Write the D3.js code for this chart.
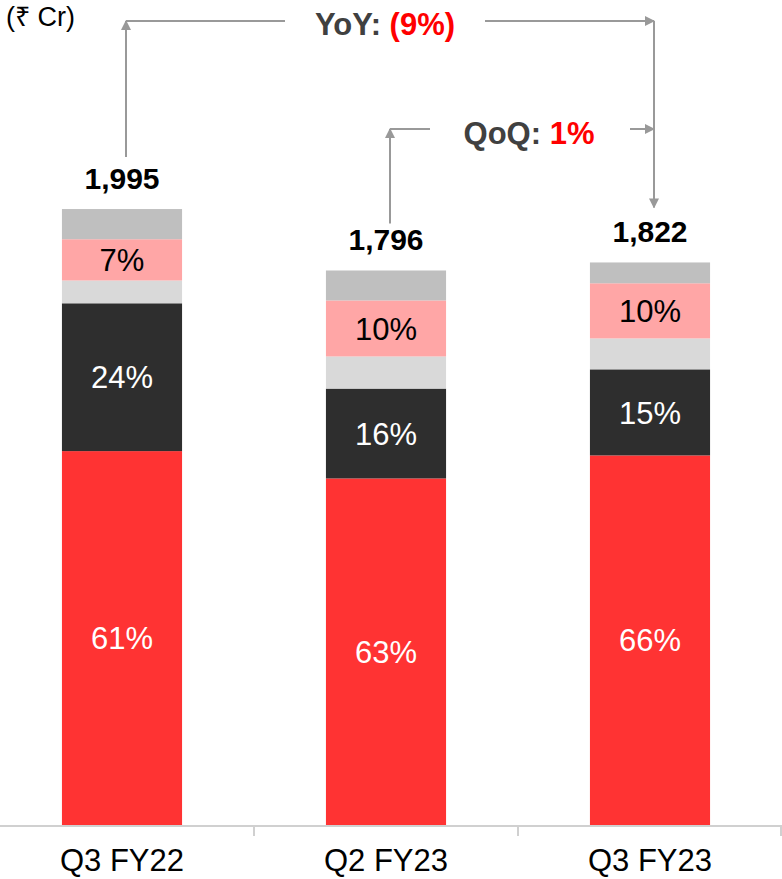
<!DOCTYPE html>
<html>
<head>
<meta charset="utf-8">
<script src="https://cdn.jsdelivr.net/npm/d3@7"></script>
<style>
  body { margin: 0; background: #fff; }
  text { font-family: "Liberation Sans", Arial, sans-serif; }
</style>
</head>
<body>
<div id="chart"></div>
<script>
const width = 782;
const height = 879;

const categories = ["Q3 FY22", "Q2 FY23", "Q3 FY23"];
const totals = [1995, 1796, 1822];

// share of each total, bottom to top (%)
const redShare = [60.7, 62.5, 65.7];
const darkShare = [24.0, 16.2, 15.3];
const lightShare = [3.7, 5.8, 5.5];
const pinkShare = [6.7, 10.1, 9.8];
const greyShare = [4.9, 5.4, 3.7];

const segments = [
    { key: "red", share: redShare, fill: "#ff3333", label: true, textFill: "#fff" },
    { key: "dark", share: darkShare, fill: "#2e2e2e", label: true, textFill: "#fff" },
    { key: "light", share: lightShare, fill: "#d9d9d9", label: false },
    { key: "pink", share: pinkShare, fill: "#ffa6a6", label: true, textFill: "#000" },
    { key: "grey", share: greyShare, fill: "#bfbfbf", label: false }
];

const svg = d3.select("#chart")
    .append("svg")
    .attr("width", width)
    .attr("height", height);

const x = d3.scaleBand()
    .domain(categories)
    .range([-10, width])
    .paddingInner(0.545)
    .paddingOuter(0.2725);

const y = d3.scaleLinear()
    .domain([0, 2000])
    .range([825, 207.5]);

// stack segments
const rows = [];
categories.forEach((cat, i) => {
    let base = 0;
    segments.forEach(seg => {
        const v = totals[i] * seg.share[i] / 100;
        rows.push({ cat, seg, y0: base, y1: base + v, pct: Math.round(seg.share[i]) });
        base += v;
    });
});

svg.selectAll("rect.seg")
    .data(rows)
    .enter()
    .append("rect")
    .attr("class", "seg")
    .attr("x", d => x(d.cat))
    .attr("width", x.bandwidth())
    .attr("y", d => y(d.y1))
    .attr("height", d => y(d.y0) - y(d.y1))
    .attr("fill", d => d.seg.fill);

svg.selectAll("text.pct")
    .data(rows.filter(d => d.seg.label))
    .enter()
    .append("text")
    .attr("class", "pct")
    .attr("x", d => x(d.cat) + x.bandwidth() / 2)
    .attr("y", d => (y(d.y0) + y(d.y1)) / 2)
    .attr("dy", "0.36em")
    .attr("text-anchor", "middle")
    .attr("font-size", 31)
    .attr("fill", d => d.seg.textFill)
    .text(d => d.pct + "%");

// totals
svg.selectAll("text.total")
    .data(categories)
    .enter()
    .append("text")
    .attr("class", "total")
    .attr("x", d => x(d) + x.bandwidth() / 2)
    .attr("y", (d, i) => y(totals[i]) - 20)
    .attr("text-anchor", "middle")
    .attr("font-size", 30)
    .attr("font-weight", "bold")
    .attr("fill", "#000")
    .text((d, i) => d3.format(",")(totals[i]));

// x axis
const axis = svg.append("g").attr("transform", "translate(0,826)");
axis.append("line")
    .attr("x1", 0).attr("x2", width)
    .attr("stroke", "#d0d0d0").attr("stroke-width", 2);
axis.selectAll("line.tick")
    .data([x.step() - 10, 2 * x.step() - 10, 3 * x.step() - 11])
    .enter()
    .append("line")
    .attr("x1", d => d).attr("x2", d => d)
    .attr("y1", 0).attr("y2", 10)
    .attr("stroke", "#d0d0d0").attr("stroke-width", 2);
axis.selectAll("text")
    .data(categories)
    .enter()
    .append("text")
    .attr("x", d => x(d) + x.bandwidth() / 2)
    .attr("y", 45)
    .attr("text-anchor", "middle")
    .attr("font-size", 31)
    .attr("fill", "#000")
    .text(d => d);

// unit
svg.append("text")
    .attr("x", 6).attr("y", 26)
    .attr("font-size", 27)
    .attr("fill", "#000")
    .text("(₹ Cr)");

// growth arrows
const defs = svg.append("defs");
defs.append("marker")
    .attr("id", "arrow")
    .attr("viewBox", "0 0 10 10")
    .attr("refX", 9).attr("refY", 5)
    .attr("markerWidth", 5).attr("markerHeight", 5)
    .attr("orient", "auto")
    .append("path")
    .attr("d", "M0,0L10,5L0,10Z")
    .attr("fill", "#999");

const cx = c => x(c) + x.bandwidth() / 2 + 4;
const grey = "#999";

function seg(pts, arrow) {
    svg.append("path")
        .attr("d", d3.line()(pts))
        .attr("fill", "none")
        .attr("stroke", grey)
        .attr("stroke-width", 2)
        .attr("marker-end", arrow ? "url(#arrow)" : null);
}

// YoY
const yoyY = 21;
seg([[cx(categories[0]), y(totals[0]) - 52], [cx(categories[0]), yoyY]], true);
seg([[cx(categories[0]), yoyY], [285, yoyY]], false);
seg([[485, yoyY], [cx(categories[2]), yoyY]], true);
seg([[cx(categories[2]), yoyY], [cx(categories[2]), y(totals[2]) - 55]], true);

const yoy = svg.append("text")
    .attr("x", 385).attr("y", 35)
    .attr("text-anchor", "middle")
    .attr("font-size", 31)
    .attr("font-weight", "bold")
    .attr("fill", "#404040");
yoy.append("tspan").text("YoY: ");
yoy.append("tspan").attr("fill", "#ff0000").text("(9%)");

// QoQ
const qoqY = 129;
seg([[cx(categories[1]), y(totals[1]) - 47], [cx(categories[1]), qoqY]], true);
seg([[cx(categories[1]), qoqY], [430, qoqY]], false);
seg([[630, qoqY], [cx(categories[2]), qoqY]], true);

const qoq = svg.append("text")
    .attr("x", 529).attr("y", 144)
    .attr("text-anchor", "middle")
    .attr("font-size", 31)
    .attr("font-weight", "bold")
    .attr("fill", "#404040");
qoq.append("tspan").text("QoQ: ");
qoq.append("tspan").attr("fill", "#ff0000").text("1%");
</script>
</body>
</html>
